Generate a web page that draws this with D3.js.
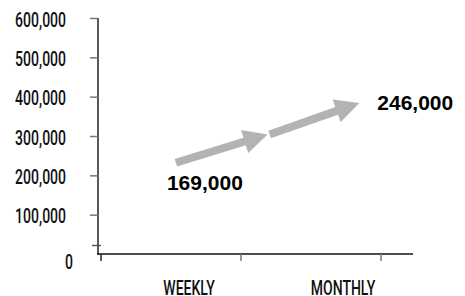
<!DOCTYPE html>
<html>
<meta name="viewport" content="width=device-width,initial-scale=1" />
<script src="https://d3js.org/d3.v7.min.js"></script>

<body>

    <style>
        body,
        html {
            margin: 0;
            padding: 0;
            width: 100%;
            height: 100%;
            overflow: hidden;
            background: #fff;
        }

        .tick-label {
            font-family: Roboto, "DejaVu Sans", sans-serif;
            font-weight: 500;
            font-size: 20px;
            fill: #111;
        }

        .value-label {
            font-family: "Liberation Sans", "DejaVu Sans", sans-serif;
            font-weight: bold;
            font-size: 21px;
            fill: #000;
        }
    </style>

    <svg id="chart"></svg>

    <script>
        // values
        var categories = ["WEEKLY", "MONTHLY"];
        var values = [169000, 246000];
        var yTicks = [0, 100000, 200000, 300000, 400000, 500000, 600000];
        // where the arrows sit on the value scale (tail, joint, tip)
        var arrowLevels = [232000, 304000, 384000];

        var width = 465;
        var height = 296;

        var svg = d3.select("#chart")
            .attr("width", width)
            .attr("height", height);

        var y = d3.scaleLinear()
            .domain([0, 600000])
            .range([254, 18]);

        var x = d3.scaleBand()
            .domain(categories)
            .range([101, 381]);

        var bw = x.bandwidth();

        // squeeze text into a condensed look, keeping its anchor point
        function condense(sel, k) {
            sel.each(function () {
                var t = d3.select(this);
                var w = this.getComputedTextLength();
                var nw = w * k;
                var anchor = t.attr("text-anchor") || window.getComputedStyle(this).textAnchor || "start";
                var x0 = +t.attr("x") || 0;
                var shift = anchor === "end" ? nw : anchor === "middle" ? nw / 2 : 0;
                t.attr("text-anchor", "start")
                    .attr("x", x0 - shift)
                    .attr("textLength", nw)
                    .attr("lengthAdjust", "spacingAndGlyphs");
            });
        }

        // y axis
        var yAxis = svg.append("g")
            .attr("transform", "translate(98,0)")
            .call(d3.axisLeft(y)
                .tickValues(yTicks)
                .tickSize(8)
                .tickPadding(24)
                .tickFormat(d3.format(",")));

        yAxis.attr("font-family", null).attr("font-size", null).attr("text-anchor", null);
        yAxis.select(".domain").attr("stroke", "#222").attr("stroke-width", 1.5)
            .attr("d", "M0," + y(600000) + "V" + (y(0) + 1));
        yAxis.selectAll(".tick line").attr("stroke", "#777").attr("stroke-width", 1.5);
        yAxis.selectAll(".tick text").attr("class", "tick-label").attr("dy", "0.4em").attr("text-anchor", "end");
        condense(yAxis.selectAll(".tick text"), 0.7);

        // the zero tick is drawn a little above the baseline, its label a little below
        var zero = yAxis.selectAll(".tick").filter(function (d) { return d === 0; });
        zero.select("line").attr("x1", 3).attr("x2", -6).attr("y1", -9).attr("y2", -9).attr("stroke", "#555");
        zero.select("text").attr("dy", "0.72em").attr("dx", 7);

        // x axis
        var xAxis = svg.append("g");
        xAxis.append("line")
            .attr("x1", 97).attr("x2", 413)
            .attr("y1", y(0)).attr("y2", y(0))
            .attr("stroke", "#111").attr("stroke-width", 1.5);

        var xTickPos = categories.map(function (c) { return x(c); }).concat([x.range()[1]]);
        xAxis.selectAll(".xtick")
            .data(xTickPos)
            .enter().append("line")
            .attr("class", "xtick")
            .attr("x1", function (d) { return d; })
            .attr("x2", function (d) { return d; })
            .attr("y1", y(0))
            .attr("y2", y(0) + 7)
            .attr("stroke", function (d, i) { return i === 0 ? "#222" : "#777"; })
            .attr("stroke-width", 1.5);

        var labelShift = [18, 32];
        var xLabels = xAxis.selectAll(".xlabel")
            .data(categories)
            .enter().append("text")
            .attr("class", "tick-label")
            .attr("x", function (d, i) { return x(d) + bw / 2 + labelShift[i]; })
            .attr("y", 295)
            .attr("text-anchor", "middle")
            .text(function (d) { return d; });
        condense(xLabels, 0.7);

        // arrows
        var ax = d3.scaleLinear()
            .domain([0, arrowLevels.length - 1])
            .range([x(categories[0]) + bw * 0.535, x(categories[1]) + bw * 0.845]);

        var pts = arrowLevels.map(function (v, i) { return [ax(i), y(v)]; });

        function arrowPath(p0, p1, shaft, headLen, headHalf) {
            var dx = p1[0] - p0[0], dy = p1[1] - p0[1];
            var len = Math.sqrt(dx * dx + dy * dy);
            var ux = dx / len, uy = dy / len;
            var nx = -uy, ny = ux;
            var bx = p1[0] - ux * headLen, by = p1[1] - uy * headLen;
            var s = shaft / 2;
            var p = [
                [p0[0] + nx * s, p0[1] + ny * s],
                [bx + nx * s, by + ny * s],
                [bx + nx * headHalf, by + ny * headHalf],
                p1,
                [bx - nx * headHalf, by - ny * headHalf],
                [bx - nx * s, by - ny * s],
                [p0[0] - nx * s, p0[1] - ny * s]
            ];
            return "M" + p.map(function (q) { return q[0].toFixed(1) + "," + q[1].toFixed(1); }).join("L") + "Z";
        }

        svg.selectAll(".arrow")
            .data(d3.pairs(pts))
            .enter().append("path")
            .attr("class", "arrow")
            .attr("d", function (d, i) {
                var start = i === 0 ? d[0] : [d[0][0] + 2, d[0][1]];
                return arrowPath(start, d[1], 8, 24, 12);
            })
            .attr("fill", "#b3b3b3");

        // value labels
        svg.append("text")
            .attr("class", "value-label")
            .attr("x", pts[0][0] + 29)
            .attr("y", pts[0][1] + 27)
            .attr("text-anchor", "middle")
            .text(d3.format(",")(values[0]));

        svg.append("text")
            .attr("class", "value-label")
            .attr("x", pts[2][0] + 18)
            .attr("y", pts[2][1] + 7)
            .attr("text-anchor", "start")
            .text(d3.format(",")(values[1]));
    </script>

</body>

</html>
